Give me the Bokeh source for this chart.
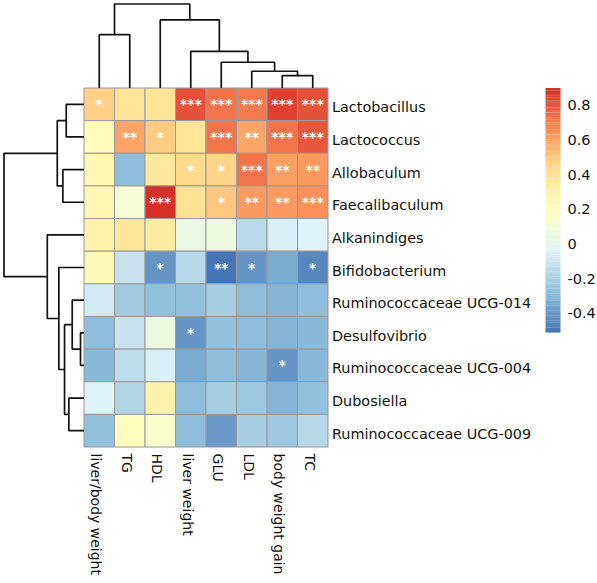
import numpy as np
from bokeh.plotting import figure
from bokeh.models import ColumnDataSource, Range1d, LinearColorMapper
from bokeh.transform import transform
from bokeh.core.properties import value
from bokeh.embed import file_html
from bokeh.resources import INLINE

# ---------------- data ----------------
genera = ["Lactobacillus", "Lactococcus", "Allobaculum", "Faecalibaculum",
          "Alkanindiges", "Bifidobacterium", "Ruminococcaceae UCG-014",
          "Desulfovibrio", "Ruminococcaceae UCG-004", "Dubosiella",
          "Ruminococcaceae UCG-009"]
traits = ["liver/body weight", "TG", "HDL", "liver weight", "GLU", "LDL",
          "body weight gain", "TC"]

lactobacillus = [0.47, 0.40, 0.40, 0.81, 0.73, 0.71, 0.85, 0.81]
lactococcus = [0.22, 0.60, 0.49, 0.39, 0.72, 0.60, 0.72, 0.79]
allobaculum = [0.26, -0.28, 0.36, 0.44, 0.45, 0.72, 0.61, 0.62]
faecalibaculum = [0.26, 0.12, 0.90, 0.41, 0.50, 0.63, 0.62, 0.66]
alkanindiges = [0.28, 0.38, 0.34, 0.05, 0.06, -0.15, -0.05, -0.04]
bifidobacterium = [0.23, -0.11, -0.40, -0.16, -0.51, -0.40, -0.33, -0.45]
ucg014 = [-0.08, -0.22, -0.27, -0.27, -0.21, -0.275, -0.31, -0.28]
desulfovibrio = [-0.28, -0.11, 0.06, -0.40, -0.26, -0.28, -0.31, -0.29]
ucg004 = [-0.29, -0.14, -0.05, -0.33, -0.28, -0.30, -0.40, -0.29]
dubosiella = [-0.04, -0.18, 0.30, -0.28, -0.21, -0.24, -0.31, -0.26]
ucg009 = [-0.27, 0.20, 0.15, -0.28, -0.39, -0.21, -0.24, -0.17]
corr_rows = [lactobacillus, lactococcus, allobaculum, faecalibaculum,
             alkanindiges, bifidobacterium, ucg014, desulfovibrio, ucg004,
             dubosiella, ucg009]

sig_lactobacillus = ["*", "", "", "***", "***", "***", "***", "***"]
sig_lactococcus = ["", "**", "*", "", "***", "**", "***", "***"]
sig_allobaculum = ["", "", "", "*", "*", "***", "**", "**"]
sig_faecalibaculum = ["", "", "***", "", "*", "**", "**", "***"]
sig_alkanindiges = ["", "", "", "", "", "", "", ""]
sig_bifidobacterium = ["", "", "*", "", "**", "*", "", "*"]
sig_ucg014 = ["", "", "", "", "", "", "", ""]
sig_desulfovibrio = ["", "", "", "*", "", "", "", ""]
sig_ucg004 = ["", "", "", "", "", "", "*", ""]
sig_dubosiella = ["", "", "", "", "", "", "", ""]
sig_ucg009 = ["", "", "", "", "", "", "", ""]
sig_rows = [sig_lactobacillus, sig_lactococcus, sig_allobaculum,
            sig_faecalibaculum, sig_alkanindiges, sig_bifidobacterium,
            sig_ucg014, sig_desulfovibrio, sig_ucg004, sig_dubosiella,
            sig_ucg009]

# dendrograms: (child_a, child_b, height); leaves 0..n-1, merge k gets id n+k
col_merges = [(6, 7, 12.5), (5, 8, 16.8), (4, 9, 25.8), (3, 10, 36.8),
              (2, 11, 68.2), (0, 1, 53.5), (13, 12, 84.2)]
row_merges = [(0, 1, 17.8), (2, 3, 21.2), (11, 12, 26.8), (7, 8, 3.5),
              (6, 14, 11.8), (9, 10, 15.2), (15, 16, 19.5), (5, 17, 25.2),
              (4, 18, 36.8), (13, 19, 80.2)]

cb_ticks = [0.8, 0.6, 0.4, 0.2, 0.0, -0.2, -0.4]
cb_labels = ["0.8", "0.6", "0.4", "0.2", "0", "-0.2", "-0.4"]

# ---------------- layout constants (pixels) ----------------
W, H = 597, 583
CW, CH = 30.5, 32.64          # cell size
HM_LEFT, HM_TOP = 83.5, 87.5  # heatmap position in the picture
COL_TREE_PX = 84.0
ROW_TREE_PX = 80.0
CB_X0, CB_X1 = 545.0, 560.0
CB_TOP, CB_BOT = 87.5, 332.0
CB_LABEL_X = 567.0

def px_x(px):
    return (px - HM_LEFT) / CW

def px_y(py):
    return (py - HM_TOP) / CH

FONT = "DejaVu Sans"

# ---------------- colour map ----------------
stops = ["#4575B4", "#91BFDB", "#E0F3F8", "#FFFFBF", "#FEE090", "#FC8D59", "#D73027"]
rgb = np.array([[int(s[i:i + 2], 16) for i in (1, 3, 5)] for s in stops], float)
t_stop = np.linspace(0, 1, len(stops))
t_new = np.linspace(0, 1, 100)
palette = ["#%02x%02x%02x" % tuple(int(round(np.interp(t, t_stop, rgb[:, c]))) for c in range(3))
           for t in t_new]

all_vals = [v for r in corr_rows for v in r]
vmin, vmax = min(all_vals), max(all_vals)
mapper = LinearColorMapper(palette=palette, low=vmin, high=vmax)

# ---------------- figure ----------------
p = figure(width=W, height=H, output_backend="svg", toolbar_location=None,
           x_range=Range1d(px_x(0), px_x(W)),
           y_range=Range1d(px_y(H), px_y(0)),
           x_axis_location=None, y_axis_location=None, min_border=0)
p.grid.visible = False
p.outline_line_color = None
p.background_fill_color = "white"
p.border_fill_color = "white"

# heatmap cells
xs, ys, vs, stars = [], [], [], []
for ri, (row, srow) in enumerate(zip(corr_rows, sig_rows)):
    for ci, (v, s) in enumerate(zip(row, srow)):
        xs.append(ci + 0.5)
        ys.append(ri + 0.5)
        vs.append(v)
        stars.append(s)
src = ColumnDataSource(dict(x=xs, y=ys, v=vs, s=stars))
p.rect(x="x", y="y", width=1, height=1, source=src,
       fill_color=transform("v", mapper), line_color="#999999", line_width=1)
p.text(x="x", y="y", text="s", source=src, text_color="white",
       text_font=value(FONT), text_font_style="bold", text_font_size="14px",
       text_align="center", text_baseline="middle")

# row labels
p.text(x=[px_x(HM_LEFT + 8 * CW + 4)] * len(genera),
       y=[i + 0.5 for i in range(len(genera))], text=genera,
       text_font=value(FONT), text_font_size="14.4px", text_color="#111111",
       text_align="left", text_baseline="middle", y_offset=3)

# column labels
p.text(x=[i + 0.5 for i in range(len(traits))],
       y=[len(genera) + px_y(HM_TOP + 6.5)] * len(traits), text=traits,
       angle=-np.pi / 2, text_font=value(FONT), text_font_size="14px",
       text_color="#111111", text_align="left", text_baseline="middle",
       x_offset=-3)

# dendrograms
def tree_lines(n, merges):
    pos = [i + 0.5 for i in range(n)]
    hts = [0.0] * n
    lp, lh = [], []
    for a, b, h in merges:
        lp.append([pos[a], pos[a], pos[b], pos[b]])
        lh.append([hts[a], h, h, hts[b]])
        pos.append((pos[a] + pos[b]) / 2)
        hts.append(h)
    return lp, lh, max(hts)

cp, ch, cmax = tree_lines(len(traits), col_merges)
p.multi_line(xs=cp, ys=[[-h / cmax * COL_TREE_PX / CH for h in seg] for seg in ch],
             line_color="#111111", line_width=1.7)
rp, rh, rmax = tree_lines(len(genera), row_merges)
p.multi_line(xs=[[-h / rmax * ROW_TREE_PX / CW for h in seg] for seg in rh], ys=rp,
             line_color="#111111", line_width=1.7)

# colour bar
n_cb = 100
cb_top, cb_bot = px_y(CB_TOP), px_y(CB_BOT)
span = cb_bot - cb_top
def v2y(v):
    return cb_top + (vmax - v) / (vmax - vmin) * span
cb_v = [vmin + (k + 0.5) * (vmax - vmin) / n_cb for k in range(n_cb)]
cb_src = ColumnDataSource(dict(x=[(px_x(CB_X0) + px_x(CB_X1)) / 2] * n_cb,
                               y=[v2y(v) for v in cb_v], v=cb_v))
p.rect(x="x", y="y", width=px_x(CB_X1) - px_x(CB_X0), height=span / n_cb * 1.05,
       source=cb_src, fill_color=transform("v", mapper), line_color=None)
p.text(x=[px_x(CB_LABEL_X)] * len(cb_ticks), y=[v2y(t) for t in cb_ticks],
       text=cb_labels, text_font=value(FONT), text_font_size="14.5px",
       text_color="#111111", text_align="left", text_baseline="middle")

open("out.html", "w").write(file_html(p, INLINE))
